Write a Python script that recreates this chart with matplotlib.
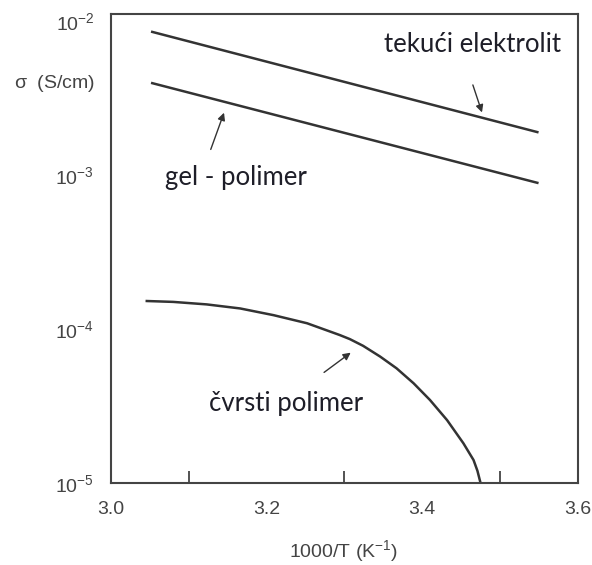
import numpy as np
import matplotlib.pyplot as plt
from matplotlib.ticker import FixedLocator, NullFormatter

plt.rcParams['font.family'] = 'Liberation Sans'
plt.rcParams['mathtext.fontset'] = 'custom'
plt.rcParams['mathtext.rm'] = 'Liberation Sans'
plt.rcParams['mathtext.it'] = 'Liberation Sans:italic'
plt.rcParams['mathtext.default'] = 'regular'

# liquid electrolyte (straight line)
liquid_x = [3.053, 3.548]
liquid_s = [8.5e-3, 1.9e-3]

# gel polymer (straight line)
gel_x = [3.053, 3.548]
gel_s = [3.95e-3, 8.9e-4]

# solid polymer (curve)
solid_x = [3.046, 3.080, 3.123, 3.166, 3.209, 3.252, 3.294, 3.307, 3.324,
           3.346, 3.367, 3.389, 3.410, 3.432, 3.453, 3.466, 3.471, 3.475]
solid_s = [1.52e-4, 1.50e-4, 1.445e-4, 1.36e-4, 1.23e-4, 1.09e-4, 9.14e-5, 8.6e-5, 7.78e-5,
           6.62e-5, 5.56e-5, 4.44e-5, 3.46e-5, 2.56e-5, 1.81e-5, 1.41e-5, 1.2e-5, 1.0e-5]

xlabels = [3.0, 3.2, 3.4, 3.6]
xminor = [3.1, 3.2, 3.3, 3.4, 3.5]
ylabels = [1e-5, 1e-4, 1e-3, 1e-2]
yminor = [1e-4, 1e-3]

tick_col = '#444444'
line_col = '#333333'
txt_col = '#1e1e28'

fig = plt.figure(figsize=(5.92, 5.65), dpi=100)
ax = fig.add_axes([0.1875, 0.1451, 0.976 - 0.1875, 0.9752 - 0.1451])

ax.plot(liquid_x, liquid_s, color=line_col, lw=1.8)
ax.plot(gel_x, gel_s, color=line_col, lw=1.8)
ax.plot(solid_x, solid_s, color=line_col, lw=1.8, solid_joinstyle='round')

ax.set_yscale('log')
ax.set_xlim(3.0, 3.6)
ax.set_ylim(1e-5, 10 ** -1.9545)

ax.set_xticks(xlabels)
ax.set_xticklabels(['3.0', '3.2', '3.4', '3.6'])
ax.xaxis.set_minor_locator(FixedLocator(xminor))
ax.xaxis.set_minor_formatter(NullFormatter())
ax.set_yticks(ylabels)
ax.set_yticklabels([r'$10^{-5}$', r'$10^{-4}$', r'$10^{-3}$', r'$10^{-2}$'])
ax.yaxis.set_minor_locator(FixedLocator(yminor))
ax.yaxis.set_minor_formatter(NullFormatter())

ax.tick_params(which='major', length=0, labelsize=14, labelcolor=tick_col)
ax.tick_params(axis='x', which='major', pad=13)
ax.tick_params(axis='y', which='major', pad=12)
ax.tick_params(which='minor', direction='in', length=9, width=1.3, color=tick_col)

for s in ax.spines.values():
    s.set_color(tick_col)
    s.set_linewidth(1.5)

fig.text(55 / 592, 1 - 83 / 565, r'$\sigma$  (S/cm)', fontsize=14, color=tick_col,
         ha='center', va='center')
fig.text(344 / 592, 1 - 551 / 565, r'1000/T (K$^{-1}$)', fontsize=14, color=tick_col,
         ha='center', va='center')

# callout labels
fig.text(472 / 592, 1 - 45 / 565, 'tekući elektrolit', fontsize=18.5, color=txt_col,
         ha='center', va='center', family='Lato')
fig.text(236 / 592, 1 - 178 / 565, 'gel - polimer', fontsize=18.5, color=txt_col,
         ha='center', va='center', family='Lato')
fig.text(286 / 592, 1 - 404 / 565, 'čvrsti polimer', fontsize=18.5, color=txt_col,
         ha='center', va='center', family='Lato')

arrow = dict(arrowstyle='-|>', color=line_col, lw=1.0, mutation_scale=11)
ax.annotate('', xy=(3.478, 2.45e-3), xytext=(3.464, 4.0e-3), arrowprops=arrow)
ax.annotate('', xy=(3.1465, 2.64e-3), xytext=(3.127, 1.41e-3), arrowprops=arrow)
ax.annotate('', xy=(3.311, 7.2e-5), xytext=(3.271, 5.1e-5), arrowprops=arrow)

fig.savefig('out.png', dpi=100)
